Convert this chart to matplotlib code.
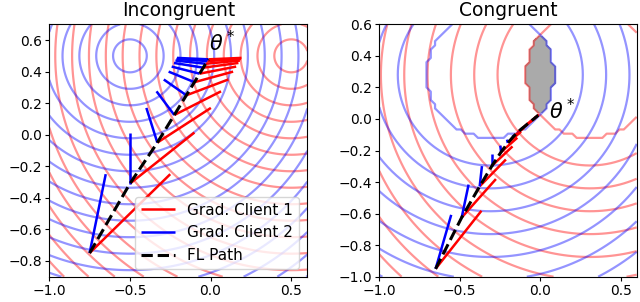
import numpy as np
import matplotlib
matplotlib.use("Agg")
import matplotlib.pyplot as plt

# ---------------- data ----------------
titles = ["Incongruent", "Congruent"]
legend_labels = ["Grad. Client 1", "Grad. Client 2", "FL Path"]

# Incongruent: optimum of each client is a single point
inc_opt_c1 = (0.5, 0.5)     # client 1 (red)
inc_opt_c2 = (-0.5, 0.5)    # client 2 (blue)

inc_path_x = [-0.750, -0.500, -0.330, -0.225, -0.150, -0.100, -0.068, -0.045, -0.030, -0.020, -0.013]
inc_path_y = [-0.750, -0.310, -0.050, 0.125, 0.250, 0.333, 0.387, 0.425, 0.450, 0.467, 0.478]
inc_g1_x = [-0.250, -0.100, 0.002, 0.065, 0.110, 0.140, 0.159, 0.173, 0.182, 0.188, 0.192]
inc_g1_y = [-0.250, 0.014, 0.170, 0.275, 0.350, 0.400, 0.432, 0.455, 0.470, 0.480, 0.487]
inc_g2_x = [-0.650, -0.500, -0.398, -0.335, -0.290, -0.260, -0.241, -0.227, -0.218, -0.212, -0.208]
inc_g2_y = [-0.250, 0.014, 0.170, 0.275, 0.350, 0.400, 0.432, 0.455, 0.470, 0.480, 0.487]

# Congruent: optimum of each client is a disc (center, radius)
con_opt_c1 = (0.31, 0.28)
con_opt_c2 = (-0.31, 0.28)
con_opt_radius = 0.41

con_path_x = [-0.650, -0.488, -0.376, -0.299, -0.243, -0.201, -0.167, -0.139, -0.115, -0.095,
              -0.079, -0.065, -0.054, -0.045, -0.037, -0.031, -0.026, -0.021, -0.018, -0.015, -0.012]
con_path_y = [-0.950, -0.625, -0.427, -0.296, -0.210, -0.152, -0.112, -0.083, -0.062, -0.046,
              -0.032, -0.021, -0.012, -0.004, 0.002, 0.008, 0.012, 0.015, 0.019, 0.021, 0.023]
con_g1_x = [-0.365, -0.275, -0.213, -0.172, -0.142, -0.119, -0.100, -0.083, -0.069, -0.057,
            -0.048, -0.039, -0.033, -0.027, -0.023, -0.019, -0.016, -0.013, -0.011, -0.009, -0.008]
con_g1_y = [-0.582, -0.381, -0.257, -0.174, -0.119, -0.081, -0.056, -0.037, -0.024, -0.015,
            -0.006, 0.000, 0.006, 0.010, 0.014, 0.017, 0.020, 0.022, 0.024, 0.025, 0.026]
con_g2_x = [-0.553, -0.445, -0.362, -0.299, -0.248, -0.206, -0.170, -0.140]
con_g2_y = [-0.608, -0.416, -0.299, -0.222, -0.169, -0.131, -0.103, -0.081]

theta_label_pos = [(-0.01, 0.53), (0.055, 0.0)]

# ---------------- figure ----------------
fig = plt.figure(figsize=(6.4, 3.02), dpi=100)
ax1 = fig.add_axes([49.3 / 640, 1 - 276.7 / 302, 258.0 / 640, 252.4 / 302])
ax2 = fig.add_axes([379.3 / 640, 1 - 276.7 / 302, 257.4 / 640, 252.4 / 302])

c_alpha = 0.42
c_lw = 1.6

# ---- Incongruent ----
gx = np.linspace(-1.0, 0.6, 241)
gy = np.linspace(-0.9, 0.7, 241)
X, Y = np.meshgrid(gx, gy)
d1 = np.hypot(X - inc_opt_c1[0], Y - inc_opt_c1[1])
d2 = np.hypot(X - inc_opt_c2[0], Y - inc_opt_c2[1])
lev_inc = 0.1045 * np.arange(1, 22)
ax1.contour(X, Y, d1, levels=lev_inc, colors="red", alpha=c_alpha, linewidths=c_lw)
ax1.contour(X, Y, d2, levels=lev_inc, colors="blue", alpha=c_alpha, linewidths=c_lw)

for i in range(len(inc_path_x)):
    ax1.plot([inc_path_x[i], inc_g1_x[i]], [inc_path_y[i], inc_g1_y[i]], color="red", lw=1.8,
             solid_capstyle="butt", label=legend_labels[0] if i == 0 else None)
    ax1.plot([inc_path_x[i], inc_g2_x[i]], [inc_path_y[i], inc_g2_y[i]], color="blue", lw=1.8,
             solid_capstyle="butt", label=legend_labels[1] if i == 0 else None)
ax1.plot(inc_path_x, inc_path_y, color="black", ls="--", lw=2.2, label=legend_labels[2])

ax1.set_xlim(-1.0, 0.6)
ax1.set_ylim(-0.9, 0.7)
ax1.set_xticks([-1.0, -0.5, 0.0, 0.5])
ax1.set_yticks([-0.8, -0.6, -0.4, -0.2, 0.0, 0.2, 0.4, 0.6])
ax1.set_title(titles[0], fontsize=13.5)
ax1.text(theta_label_pos[0][0], theta_label_pos[0][1], r"$\theta^*$", fontsize=15)
ax1.legend(loc="lower left", bbox_to_anchor=(0.332, 0.03), borderaxespad=0.0,
           fontsize=11, handlelength=2.2)

# ---- Congruent ----
rx = np.linspace(-1.0, 0.6, 61)
ry = np.linspace(-1.0, 0.6, 61)
RX, RY = np.meshgrid(rx, ry)
e1 = np.maximum(np.hypot(RX - con_opt_c1[0], RY - con_opt_c1[1]) - con_opt_radius, 0.0)
e2 = np.maximum(np.hypot(RX - con_opt_c2[0], RY - con_opt_c2[1]) - con_opt_radius, 0.0)
lev_con = np.concatenate([[1e-7], 0.165 + 0.145 * np.arange(0, 11)])
ax2.contourf(RX, RY, np.maximum(e1, e2), levels=[0.0, 1e-7], colors=["#aaaaaa"])
ax2.contour(RX, RY, e1, levels=lev_con, colors="red", alpha=c_alpha, linewidths=c_lw)
ax2.contour(RX, RY, e2, levels=lev_con, colors="blue", alpha=c_alpha, linewidths=c_lw)

for i in range(len(con_path_x)):
    ax2.plot([con_path_x[i], con_g1_x[i]], [con_path_y[i], con_g1_y[i]], color="red", lw=1.8,
             solid_capstyle="butt")
for i in range(len(con_g2_x)):
    ax2.plot([con_path_x[i], con_g2_x[i]], [con_path_y[i], con_g2_y[i]], color="blue", lw=1.8,
             solid_capstyle="butt")
ax2.plot(con_path_x, con_path_y, color="black", ls="--", lw=2.2)

ax2.set_xlim(-1.0, 0.6)
ax2.set_ylim(-1.0, 0.6)
ax2.set_xticks([-1.0, -0.5, 0.0, 0.5])
ax2.set_yticks([-1.0, -0.8, -0.6, -0.4, -0.2, 0.0, 0.2, 0.4, 0.6])
ax2.set_title(titles[1], fontsize=13.5)
ax2.text(theta_label_pos[1][0], theta_label_pos[1][1], r"$\theta^*$", fontsize=15)

for ax in (ax1, ax2):
    ax.tick_params(labelsize=10, length=3, pad=2)

fig.savefig("out.png", dpi=100)
